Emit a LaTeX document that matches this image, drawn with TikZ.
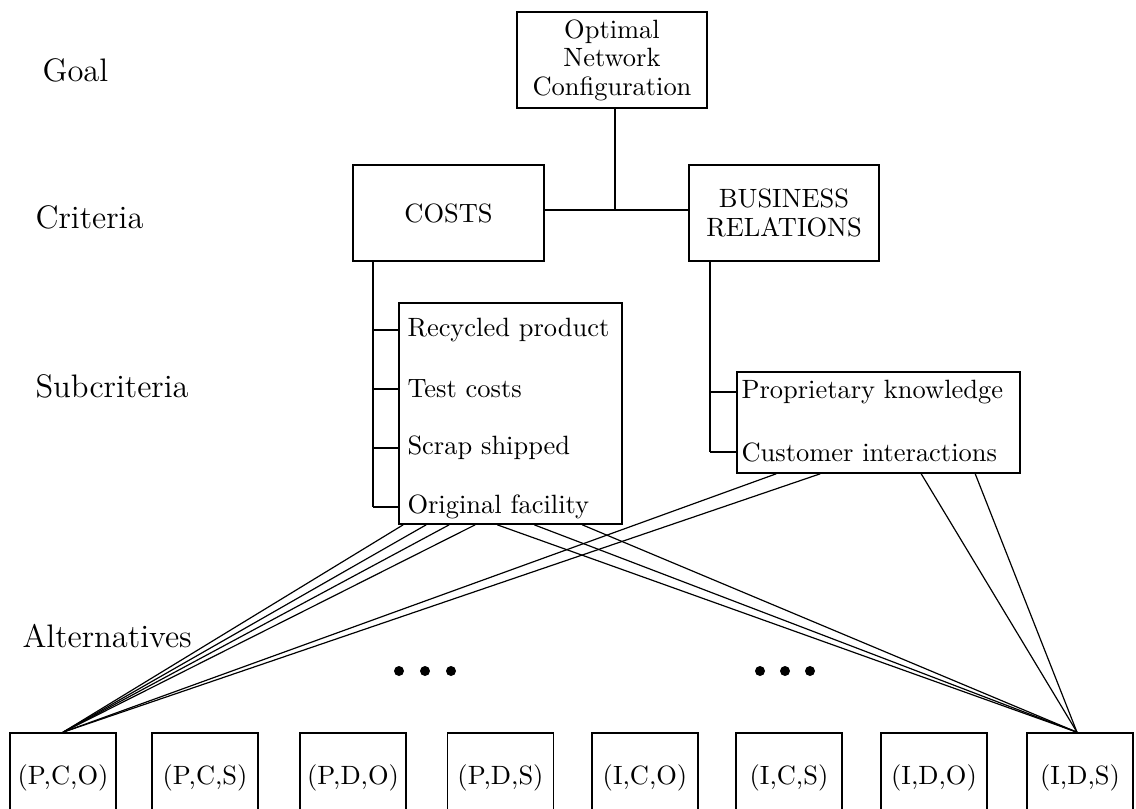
\documentclass[tikz,border=0pt]{standalone}
\usetikzlibrary{calc}
\newdimen\pxu \pxu=0.378pt
\begin{document}
\begin{tikzpicture}[x=0.378pt,y=-0.378pt,
  box/.style={draw, line width=0.6pt, inner sep=0pt, align=center, font=\fontsize{10}{10.8}\selectfont},
  alt/.style={box, minimum width=106\pxu, minimum height=90\pxu},
  item/.style={inner sep=0pt, font=\fontsize{10}{11}\selectfont},
  level/.style={inner sep=0pt, anchor=west, font=\fontsize{12.3}{15}\selectfont},
  conn/.style={line width=0.45pt},
  dot/.style={fill=black}]
\useasboundingbox (0,0) rectangle (1136,808);
\clip (0,0) rectangle (1136,808);
% level labels
\node[level] (lgoal) at (42,70) {Goal};
\node[level] (lcrit) at (35,217) {Criteria};
\node[level] (lsub) at (35,386) {Subcriteria};
\node[level] (lalt) at (22,636) {Alternatives};
% goal and criteria
\node[box, minimum width=190\pxu, minimum height=96\pxu] (goal) at (612,60) {Optimal\\Network\\Configuration};
\node[box, minimum width=191\pxu, minimum height=96\pxu] (costs) at (448.5,213) {COSTS};
\node[box, minimum width=190\pxu, minimum height=96\pxu] (br) at (784,213) {BUSINESS\\RELATIONS};
\coordinate (gj) at ($(goal.south)+(3,0)$);
\draw[conn] ($(costs.east)+(0,-3)$) -- ($(br.west)+(0,-3)$);
\draw[conn] (gj) -- ($(gj |- costs.east)+(0,-3)$);
% subcriteria boxes
\node[box, minimum width=223\pxu, minimum height=221\pxu] (sub1) at (510.5,413.5) {};
\node[item, anchor=west] (i1) at (407,330) {Recycled product};
\node[item, anchor=west] (i2) at (407,389) {Test costs};
\node[item, anchor=west] (i3) at (407,448) {Scrap shipped};
\node[item, anchor=west] (i4) at (407,507) {Original facility};
\node[box, minimum width=283\pxu, minimum height=101\pxu] (sub2) at (878.5,422.5) {};
\node[item, anchor=west] (j1) at (741,392) {Proprietary knowledge};
\node[item, anchor=west] (j2) at (741,452) {Customer interactions};
% tree connectors
\coordinate (v1) at (373,0);
\coordinate (v2) at (710,0);
\draw[conn] (v1 |- costs.south) -- (v1 |- i4);
\foreach \k in {1,...,4} \draw[conn] (v1 |- i\k) -- (sub1.west |- i\k);
\draw[conn] (v2 |- br.south) -- (v2 |- j2);
\foreach \k in {1,2} \draw[conn] (v2 |- j\k) -- (sub2.west |- j\k);
% alternatives
\node[alt] (b1) at (63,778) {(P,C,O)};
\node[alt] (b2) at (205,778) {(P,C,S)};
\node[alt] (b3) at (353,778) {(P,D,O)};
\node[alt] (b4) at (500.5,778) {(P,D,S)};
\node[alt] (b5) at (645,778) {(I,C,O)};
\node[alt] (b6) at (789,778) {(I,C,S)};
\node[alt] (b7) at (934,778) {(I,D,O)};
\node[alt] (b8) at (1080,778) {(I,D,S)};
% fans
\foreach \d in {5,28,51,77} \draw[conn] ($(sub1.south west)+(\d,0)$) -- (b1.north);
\foreach \d in {40,84} \draw[conn] ($(sub2.south west)+(\d,0)$) -- (b1.north);
\foreach \d in {99,136,184} \draw[conn] ($(sub1.south west)+(\d,0)$) -- ($(b8.north)+(-3,0)$);
\foreach \d in {185,239} \draw[conn] ($(sub2.south west)+(\d,0)$) -- ($(b8.north)+(-3,0)$);
% ellipsis dots
\foreach \x in {399,425,451,760,785,810} \fill[dot] (\x,671) circle[radius=5\pxu];
\end{tikzpicture}
\end{document}
